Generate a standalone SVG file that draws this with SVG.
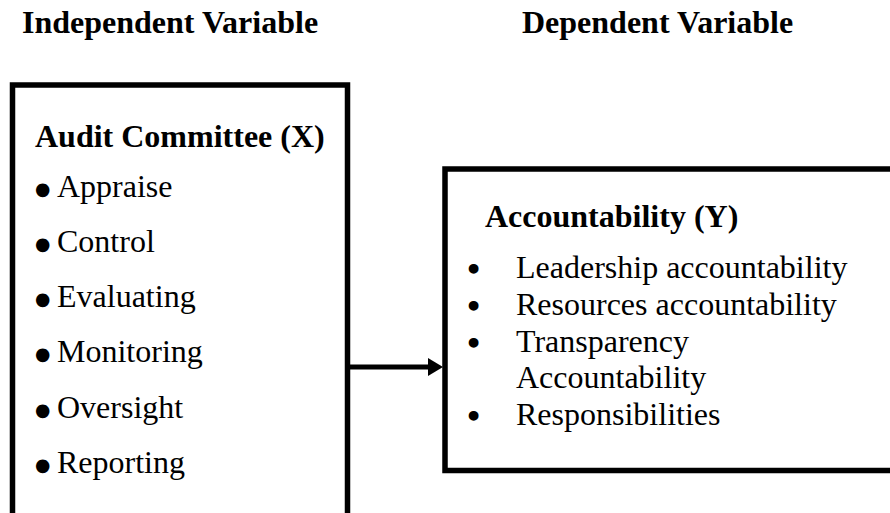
<svg xmlns="http://www.w3.org/2000/svg" width="890" height="513" viewBox="0 0 890 513">
  <style>
    .hd { font-family: "Liberation Serif", "Times New Roman", serif; font-weight: bold; font-size: 32px; fill: #000; }
    .it { font-family: "Liberation Serif", "Times New Roman", serif; font-size: 32px; fill: #000; }
    .bl { font-size: 44px; stroke: #000; stroke-width: 3; stroke-linejoin: round; }
    .br { stroke: #000; stroke-width: 2.2; stroke-linejoin: round; }
    .box { fill: #fff; stroke: #000; stroke-width: 5.5; }
    .conn { stroke: #000; stroke-width: 5; fill: none; }
  </style>
  <defs>
    <marker id="arrowhead" markerUnits="userSpaceOnUse" markerWidth="16" markerHeight="18" refX="1" refY="9" orient="auto">
      <polygon points="0,0 15,9 0,18" fill="#000"/>
    </marker>
  </defs>
  <rect width="890" height="513" fill="#fff"/>

  <!-- column headings -->
  <text class="hd" x="22" y="33">Independent Variable</text>
  <text class="hd" x="522" y="33">Dependent Variable</text>

  <!-- independent variable box: bullet and label share one text line -->
  <g id="audit-committee">
    <rect class="box" x="12.5" y="85" width="335" height="432"/>
    <text class="hd" x="35" y="147">Audit Committee (X)</text>
    <text class="it"><tspan class="bl" x="35" y="205">•</tspan><tspan x="57" y="197">Appraise</tspan></text>
    <text class="it"><tspan class="bl" x="35" y="260">•</tspan><tspan x="57" y="252">Control</tspan></text>
    <text class="it"><tspan class="bl" x="35" y="315">•</tspan><tspan x="57" y="307">Evaluating</tspan></text>
    <text class="it"><tspan class="bl" x="35" y="370">•</tspan><tspan x="57" y="362">Monitoring</tspan></text>
    <text class="it"><tspan class="bl" x="35" y="426">•</tspan><tspan x="57" y="418">Oversight</tspan></text>
    <text class="it"><tspan class="bl" x="35" y="481">•</tspan><tspan x="57" y="473">Reporting</tspan></text>
  </g>

  <!-- dependent variable box -->
  <g id="accountability">
    <rect class="box" x="445" y="169" width="460" height="301.5"/>
    <text class="hd" x="485" y="227">Accountability (Y)</text>
    <text class="it"><tspan class="br" x="468" y="279.5">•</tspan><tspan x="516" y="278">Leadership accountability</tspan></text>
    <text class="it"><tspan class="br" x="468" y="316.5">•</tspan><tspan x="516" y="315">Resources accountability</tspan></text>
    <text class="it"><tspan class="br" x="468" y="353.5">•</tspan><tspan x="516" y="352">Transparency</tspan><tspan x="516" y="388">Accountability</tspan></text>
    <text class="it"><tspan class="br" x="468" y="426.5">•</tspan><tspan x="516" y="425">Responsibilities</tspan></text>
  </g>

  <!-- connectors -->
  <g id="connectors">
    <line class="conn" x1="350" y1="367" x2="429" y2="367" marker-end="url(#arrowhead)"/>
  </g>
</svg>
